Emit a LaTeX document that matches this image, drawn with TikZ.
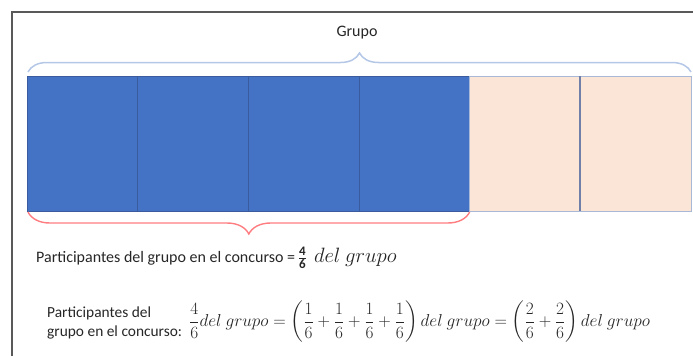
\documentclass[tikz,border=0pt]{standalone}
\usepackage{amsmath}
\usepackage[no-math]{fontspec}
\setmainfont{Carlito}
\usetikzlibrary{positioning,calc,decorations.pathreplacing}
\definecolor{partblue}{HTML}{4472C4}
\definecolor{partpeach}{HTML}{FBE5D6}
\definecolor{blueedge}{HTML}{3A5C9E}
\definecolor{peachedge}{HTML}{A9B8D6}
\definecolor{divider}{HTML}{6F7FA8}
\definecolor{topbracecol}{HTML}{B4C7E7}
\definecolor{lowbracecol}{HTML}{FF7C80}
\definecolor{framecol}{HTML}{595959}
\definecolor{textcol}{HTML}{262626}
\tikzset{
  cellbox/.style={draw=blueedge, line width=1pt, anchor=north west,
    minimum width=110.67pt, minimum height=135pt, inner sep=0pt, outer sep=0pt},
  topbrace/.style={decorate, decoration={brace, amplitude=19pt},
    draw=topbracecol, line width=1.5pt},
  lowbrace/.style={decorate, decoration={brace, amplitude=22pt},
    draw=lowbracecol, line width=1.4pt},
  txt/.style={text=textcol, inner sep=0pt, anchor=west},
  framebar/.style={draw=framecol, line width=2.4pt}
}
\begin{document}
\begin{tikzpicture}[x=1pt, y=-1pt]
  \useasboundingbox (0,0) rectangle (693,356);
  \coordinate (frametop) at (12,12);
  \coordinate (frameleft) at (12,356);
  \coordinate (frameright) at (693,12);
  \draw[framebar] (frameleft) -- (frametop) -- (frameright);

  \foreach \i/\col in {1/partblue,2/partblue,3/partblue,4/partblue,5/partpeach,6/partpeach}
    \node[cellbox, fill=\col] (c\i) at ({27+(\i-1)*110.67},76) {};
  \draw[draw=peachedge, line width=1pt] (c5.north west) rectangle (c6.south east);
  \draw[draw=divider, line width=1.8pt] (c5.north east) -- (c5.south east);

  \draw[topbrace] ($(c1.north west)+(1,-4)$) -- ($(c6.north east)+(0,-4)$);
  \node[txt, anchor=center, font=\fontsize{16}{19}\selectfont] (grupo) at (357,33) {Grupo};
  \draw[lowbrace] ($(c4.south east)+(0,1)$) -- ($(c1.south west)+(1,1)$);

  \node[txt, font=\fontsize{16}{18}\selectfont] (line1) at (36,258)
    {Participantes del grupo en el concurso =\,$\frac{\textbf{\fontsize{13}{14}\selectfont 4}}{\textbf{\fontsize{13}{14}\selectfont 6}}$\ \ \fontsize{20}{22}\selectfont$del\ grupo$};

  \node[txt, align=left, font=\fontsize{15.4}{18.5}\selectfont] (line2) at (47,323)
    {Participantes del\\grupo en el concurso:};
  \node[txt, font=\fontsize{17.8}{20}\selectfont] (eq) at (189,322)
    {$\displaystyle \frac{4}{6}del\ grupo=\left(\frac{1}{6}+\frac{1}{6}+\frac{1}{6}+\frac{1}{6}\right)del\ grupo=\left(\frac{2}{6}+\frac{2}{6}\right)del\ grupo$};
\end{tikzpicture}
\end{document}
